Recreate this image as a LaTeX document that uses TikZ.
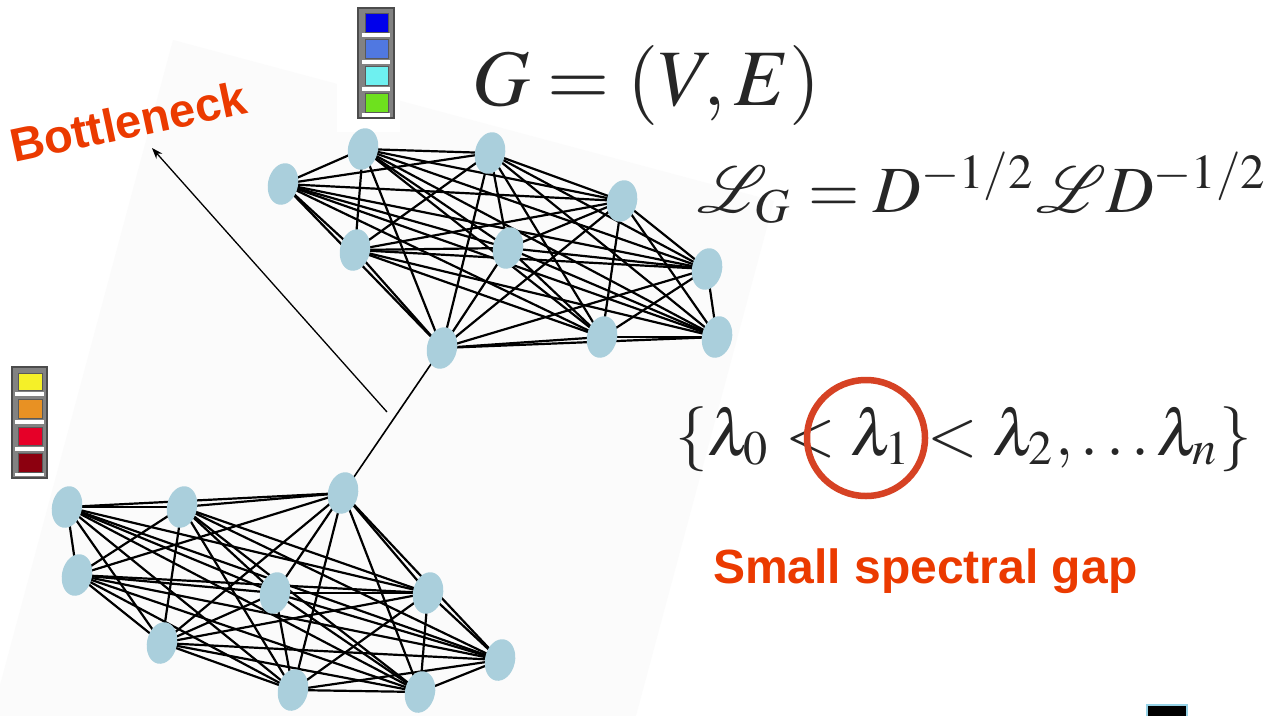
\documentclass[tikz,border=0pt]{standalone}
\usepackage{mathptmx}
\usepackage{mathrsfs}
\usepackage[no-math]{fontspec}
\newfontfamily\labelfont{Liberation Sans}
\usetikzlibrary{shapes.geometric,arrows.meta}
\definecolor{bggray}{RGB}{251,251,251}
\definecolor{nodeblue}{RGB}{170,207,220}
\definecolor{labelred}{RGB}{235,58,0}
\definecolor{circlered}{RGB}{214,66,36}
\definecolor{barframe}{RGB}{130,130,130}
\definecolor{cblue}{RGB}{0,0,235}
\definecolor{cmblue}{RGB}{80,120,225}
\definecolor{ccyan}{RGB}{110,240,240}
\definecolor{cgreen}{RGB}{110,225,30}
\definecolor{cyellow}{RGB}{245,240,40}
\definecolor{corange}{RGB}{232,145,35}
\definecolor{cred}{RGB}{230,0,40}
\definecolor{cdred}{RGB}{140,0,15}
\definecolor{artblue}{RGB}{150,210,230}
\pgfdeclarelayer{bg}
\pgfdeclarelayer{edges}
\pgfsetlayers{bg,edges,main}
\tikzset{
  vert/.style={ellipse, fill=nodeblue, minimum width=30pt, minimum height=42pt, inner sep=0pt, rotate=-12},
  gedge/.style={line width=2.2pt, black},
  redlabel/.style={text=labelred, font=\labelfont\bfseries\fontsize{47}{56}\selectfont, inner sep=0pt},
  formula/.style={inner sep=0pt, text=black!85},
  barsq/.style={draw=black!65, line width=1pt},
  barframe/.style={fill=barframe, draw=black!70, line width=1.2pt}
}
\begin{document}
\begin{tikzpicture}[x=1pt,y=-1pt]
\useasboundingbox (0,0) rectangle (1276,715);
\clip (0,0) rectangle (1276,715);
\begin{pgfonlayer}{bg}
  \fill[white] (0,0) rectangle (1276,715);
  \fill[bggray] (173,40) -- (774,201) -- (541,1070) -- (-60,909) -- cycle;
  \fill[white] (337,0) rectangle (400,132);
\end{pgfonlayer}

% top cluster
\foreach \n/\x/\y in {1/283/184, 2/363/149, 3/490/153, 4/622/201, 5/355/250,
                      6/508/248, 7/707/269, 8/442/348, 9/602/337, 10/717/337}
  \node[vert] (T\n) at (\x,\y) {};
% bottom cluster
\foreach \n/\x/\y in {1/67/507, 2/182/507, 3/343/493, 4/77/575, 5/275/593,
                      6/428/593, 7/162/643, 8/500/660, 9/293/690, 10/420/692}
  \node[vert] (B\n) at (\x,\y) {};

\begin{pgfonlayer}{edges}
  \foreach \i in {1,...,9}{
    \pgfmathtruncatemacro\k{\i+1}
    \foreach \j in {\k,...,10}{
      \draw[gedge] (T\i.center) -- (T\j.center);
      \draw[gedge] (B\i.center) -- (B\j.center);
    }
  }
  \draw[gedge, line width=1.6pt] (T8.center) -- (B3.center);
\end{pgfonlayer}

% colour bars
\draw[barframe] (358,8) rectangle (394,118);
\foreach \ya/\yb in {33/37, 60/64, 87/91, 113/117}
  \fill[white] (362,\ya) rectangle (390,\yb);
\foreach \ya/\yb/\c in {13/32/cblue, 39/58/cmblue, 66/85/ccyan, 93/112/cgreen}
  \draw[barsq, fill=\c] (365,\ya) rectangle (388,\yb);

\draw[barframe] (12,367) rectangle (47,478);
\foreach \ya/\yb in {392/396, 420/424, 447/451, 473/476}
  \fill[white] (15,\ya) rectangle (44,\yb);
\foreach \ya/\yb/\c in {373/390/cyellow, 399/418/corange, 427/445/cred, 453/472/cdred}
  \draw[barsq, fill=\c] (18,\ya) rectangle (42,\yb);

% bottleneck arrow
\coordinate (bnstart) at (387,412);
\coordinate (bntip) at (152,148);
\draw[line width=1.3pt, -{Stealth[length=11pt,width=8pt]}] (bnstart) -- (bntip);
\node[redlabel, anchor=base west, rotate=12] (bottleneck) at (14,163) {Bottleneck};

% formulas
\node[formula, anchor=base west] (graphdef) at (472,105) {\resizebox{348pt}{!}{$G=(V,E)$}};
\node[formula, anchor=base west] (laplacian) at (697,212) {\resizebox{571pt}{!}{$\mathscr{L}_G=D^{-1/2}\mathscr{L}D^{-1/2}$}};
\node[formula, anchor=base west] (spectrum) at (675,455) {\resizebox{577pt}{!}{$\{\lambda_0<\lambda_1<\lambda_2,\ldots\lambda_n\}$}};
\draw[circlered, line width=6.5pt] (866,438) ellipse [x radius=59, y radius=58];

\node[redlabel, font=\labelfont\bfseries\fontsize{48}{58}\selectfont, anchor=base west] (gap) at (713,583) {Small spectral gap};

% artefact at bottom right
\draw[fill=black, draw=artblue, line width=1.5pt] (1147,705) rectangle (1187,720);
\end{tikzpicture}
\end{document}
